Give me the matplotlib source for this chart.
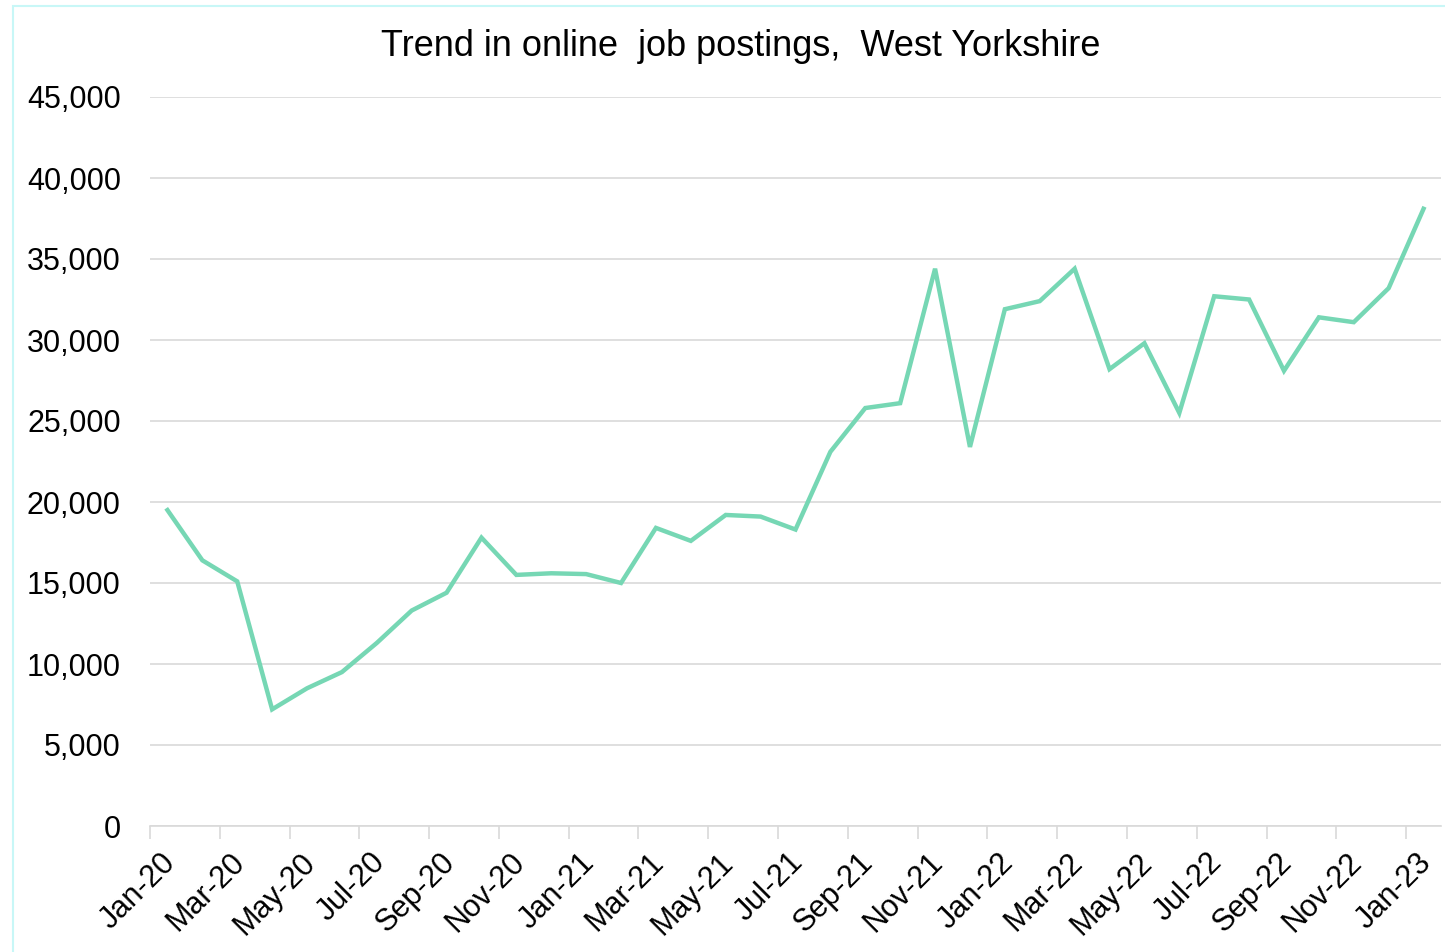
import numpy as np
import matplotlib
matplotlib.use("Agg")
import matplotlib.pyplot as plt
from matplotlib.patches import Rectangle
from matplotlib.transforms import ScaledTranslation

plt.rcParams['font.family'] = ['Liberation Sans', 'DejaVu Sans']

# monthly postings, Jan-20 .. Jan-23
months = ["Jan-20", "Feb-20", "Mar-20", "Apr-20", "May-20", "Jun-20", "Jul-20", "Aug-20",
          "Sep-20", "Oct-20", "Nov-20", "Dec-20", "Jan-21", "Feb-21", "Mar-21", "Apr-21",
          "May-21", "Jun-21", "Jul-21", "Aug-21", "Sep-21", "Oct-21", "Nov-21", "Dec-21",
          "Jan-22", "Feb-22", "Mar-22", "Apr-22", "May-22", "Jun-22", "Jul-22", "Aug-22",
          "Sep-22", "Oct-22", "Nov-22", "Dec-22", "Jan-23"]
postings = [19500, 16400, 15100, 7200, 8500, 9500, 11300, 13300,
            14400, 17800, 15500, 15600, 15550, 15000, 18400, 17600,
            19200, 19100, 18300, 23100, 25800, 26100, 34400, 23400,
            31900, 32400, 34400, 28200, 29800, 25500, 32700, 32500,
            28100, 31400, 31100, 33200, 38100]

line_col = "#76d7b4"
grid_col = "#d9d9d9"

fig = plt.figure(figsize=(14.45, 9.52), dpi=100)
# faint frame of the original chart area
fig.patches.append(Rectangle((13 / 1445, -0.05), 1.1, 946 / 952 + 0.05,
                             transform=fig.transFigure, fill=False,
                             edgecolor="#c8f7f7", lw=1.5))

ax = fig.add_axes([150 / 1445, (952 - 826) / 952, (1441 - 150) / 1445, (826 - 97) / 952])

x = np.arange(len(months))
ax.plot(x, postings, color=line_col, lw=3.2, solid_joinstyle="miter")

ax.set_xlim(-0.5, len(months) - 0.5)
ax.set_ylim(0, 45000)
ax.set_yticks(np.arange(0, 45001, 5000))
ax.set_yticklabels([f"{v:,}" for v in range(0, 45001, 5000)])
ax.yaxis.grid(True, color=grid_col, lw=1.2)
ax.set_axisbelow(True)

# tick marks between categories, labels centred on every other month
ax.set_xticks(np.arange(-0.5, len(months) - 1, 2))
ax.set_xticklabels([])
ax.set_xticks(x[::2], minor=True)
ax.set_xticklabels(months[::2], minor=True, rotation=45, ha="right",
                   rotation_mode="anchor", fontsize=22)
ax.tick_params(axis="x", which="major", length=9, width=1.2, color=grid_col)
ax.tick_params(axis="x", which="minor", length=0, pad=14)
ax.tick_params(axis="y", length=0, labelsize=22, pad=21)
shift = ScaledTranslation(-7 / 100, -2 / 100, fig.dpi_scale_trans)
for lbl in ax.get_xticklabels(minor=True):
    lbl.set_transform(lbl.get_transform() + shift)

for s in ["top", "right", "left"]:
    ax.spines[s].set_visible(False)
ax.spines["bottom"].set_color(grid_col)
ax.spines["bottom"].set_linewidth(1.2)

fig.text(741 / 1445, 1 - 46 / 952, "Trend in online  job postings,  West Yorkshire",
         ha="center", va="center", fontsize=26)

fig.savefig("out.png", dpi=100)
